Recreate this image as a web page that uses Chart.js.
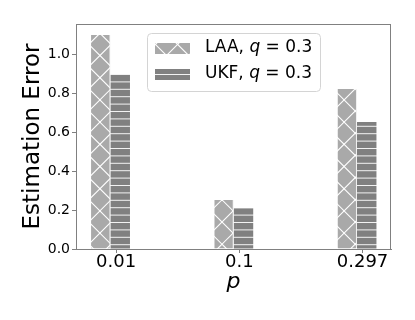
<!DOCTYPE html>
<html>
<head>
<meta charset="utf-8">
<script src="https://cdn.jsdelivr.net/npm/chart.js@4"></script>
<style>
  html, body { margin: 0; padding: 0; background: #fff; }
  #wrap { width: 415px; height: 320px; }
</style>
</head>
<body>
<div id="wrap"><canvas id="errChart" width="415" height="320"></canvas></div>
<script>
var pLabels = ['0.01', '0.1', '0.297'];
var laaErr = [1.097, 0.251, 0.820];
var ukfErr = [0.897, 0.209, 0.651];
var yTicks = [0, 0.2, 0.4, 0.6, 0.8, 1.0];

// hatch patterns, tile 111px = 5 cross periods = 15 line periods
function crossHatch() {
    var c = document.createElement('canvas');
    c.width = 111; c.height = 111;
    var g = c.getContext('2d');
    g.fillStyle = '#a9a9a9';
    g.fillRect(0, 0, 111, 111);
    g.strokeStyle = '#ffffff';
    g.lineWidth = 1.1;
    for (var k = -6; k <= 11; k++) {
        var o = k * 22.2;
        g.beginPath(); g.moveTo(0, o); g.lineTo(111, o + 111); g.stroke();
        g.beginPath(); g.moveTo(0, o); g.lineTo(111, o - 111); g.stroke();
    }
    return g.createPattern(c, 'repeat');
}
function lineHatch() {
    var c = document.createElement('canvas');
    c.width = 111; c.height = 111;
    var g = c.getContext('2d');
    g.fillStyle = '#808080';
    g.fillRect(0, 0, 111, 111);
    g.strokeStyle = '#f2f2f2';
    g.lineWidth = 1;
    for (var k = 0; k < 15; k++) {
        var y = k * 7.4 + 0.5;
        g.beginPath(); g.moveTo(0, y); g.lineTo(111, y); g.stroke();
    }
    return g.createPattern(c, 'repeat');
}

var FONT = "'DejaVu Sans', sans-serif";

var framePlugin = {
    id: 'frame',
    afterDraw: function(chart) {
        var a = chart.chartArea, ctx = chart.ctx;
        ctx.save();
        ctx.strokeStyle = '#808080';
        ctx.lineWidth = 1;
        ctx.strokeRect(Math.round(a.left) + 0.5, Math.round(a.top) + 0.5,
                       Math.round(a.right - a.left) - 1, Math.round(a.bottom - a.top));
        ctx.restore();
    }
};

var legendPlugin = {
    id: 'hatchLegend',
    afterDraw: function(chart) {
        var a = chart.chartArea, ctx = chart.ctx;
        var x = a.left + 71, y = a.top + 9, w = 173, h = 58, r = 4;
        ctx.save();
        ctx.beginPath();
        ctx.roundRect(x + 0.5, y + 0.5, w, h, r);
        ctx.fillStyle = 'rgba(255,255,255,0.8)';
        ctx.fill();
        ctx.strokeStyle = '#d4d4d4';
        ctx.lineWidth = 1;
        ctx.stroke();
        chart.data.datasets.forEach(function(ds, i) {
            var cy = y + 15 + i * 26;
            ctx.fillStyle = ds.backgroundColor;
            ctx.fillRect(x + 8, Math.round(cy - 5), 35, 11);
            var parts = ds.label.split('q');
            ctx.fillStyle = '#000';
            ctx.textBaseline = 'middle';
            var tx = x + 58;
            ctx.font = '17px ' + FONT;
            ctx.fillText(parts[0], tx, cy);
            tx += ctx.measureText(parts[0]).width;
            ctx.font = 'italic 17px ' + FONT;
            ctx.fillText('q', tx, cy);
            tx += ctx.measureText('q').width;
            ctx.font = '17px ' + FONT;
            ctx.fillText(parts[1], tx, cy);
        });
        ctx.restore();
    }
};

var ctx = document.getElementById('errChart').getContext('2d');
var errChart = new Chart(ctx, {
    type: 'bar',
    data: {
        datasets: [{
            label: 'LAA, q = 0.3',
            data: laaErr.map(function(v, i) { return {x: i, y: v}; }),
            backgroundColor: crossHatch(),
            borderColor: '#f0f0f0',
            borderWidth: {left: 0, right: 1, top: 0, bottom: 0},
            borderSkipped: false
        }, {
            label: 'UKF, q = 0.3',
            data: ukfErr.map(function(v, i) { return {x: i, y: v}; }),
            backgroundColor: lineHatch(),
            borderWidth: 0
        }]
    },
    options: {
        responsive: false,
        animation: false,
        categoryPercentage: 0.316,
        barPercentage: 1.0,
        layout: { padding: {left: 0, right: 24, top: 24, bottom: 0} },
        scales: {
            x: {
                type: 'linear',
                offset: false,
                min: -0.28,
                max: 2.276,
                afterBuildTicks: function(scale) {
                    scale.ticks = pLabels.map(function(l, i) { return {value: i + 0.045}; });
                },
                afterFit: function(scale) { scale.height = 71; },
                grid: { display: true, offset: false, drawOnChartArea: false, drawTicks: true, tickLength: 4, color: '#808080' },
                border: { display: true, color: '#808080' },
                ticks: {
                    color: '#000',
                    padding: 0,
                    maxRotation: 0,
                    autoSkip: false,
                    font: { family: FONT, size: 18, lineHeight: 1 },
                    callback: function(v, i) { return pLabels[i]; }
                },
                title: {
                    display: true,
                    text: 'p',
                    color: '#000',
                    font: { family: FONT, size: 22, style: 'italic', lineHeight: 1.2 },
                    padding: { top: 0, bottom: 25 }
                }
            },
            y: {
                min: 0,
                max: 1.154,
                afterBuildTicks: function(scale) {
                    scale.ticks = yTicks.map(function(v) { return {value: v}; });
                },
                afterFit: function(scale) { scale.width = 76; },
                grid: { display: true, drawOnChartArea: false, drawTicks: true, tickLength: 4, color: '#808080' },
                border: { display: true, color: '#808080' },
                ticks: {
                    color: '#000',
                    padding: 2,
                    font: { family: FONT, size: 14 },
                    callback: function(v) { return v.toFixed(1); }
                },
                title: {
                    display: true,
                    text: 'Estimation Error',
                    color: '#000',
                    font: { family: FONT, size: 23, lineHeight: 1.2 },
                    padding: { top: 19, bottom: 0 }
                }
            }
        },
        plugins: {
            legend: { display: false },
            tooltip: { enabled: false }
        }
    },
    plugins: [framePlugin, legendPlugin]
});
</script>
</body>
</html>
